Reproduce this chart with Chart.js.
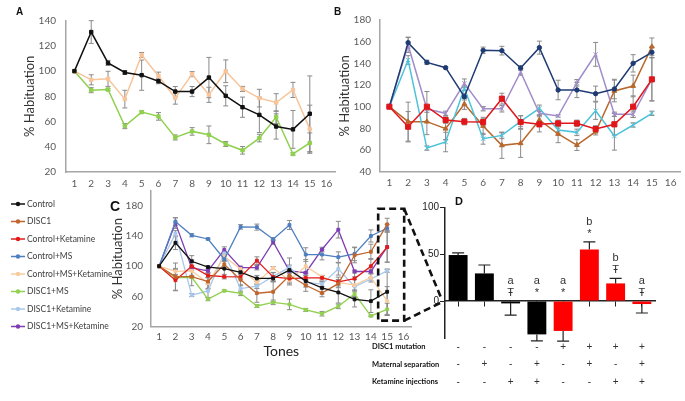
<!DOCTYPE html>
<html>
<head>
<meta charset="utf-8">
<script src="https://cdn.jsdelivr.net/npm/chart.js@4.4.1/dist/chart.umd.min.js"></script>
<style>
  html, body { margin: 0; padding: 0; background: #fff; }
  #wrap { position: relative; width: 685px; height: 401px; overflow: hidden; }
  canvas { position: absolute; }
  .tag { position: absolute; font-family: "Liberation Sans", Arial, sans-serif; font-weight: bold; color: #111; line-height: 1; }
</style>
</head>
<body>
<div id="wrap">
  <canvas id="chartA" width="340" height="200" style="left:0;top:0"></canvas>
  <canvas id="chartB" width="350" height="200" style="left:335px;top:0"></canvas>
  <canvas id="chartC" width="420" height="226" style="left:0;top:175px"></canvas>
  <canvas id="chartD" width="325" height="216" style="left:360px;top:185px"></canvas>
  <div class="tag" style="left:16px;top:7px;font-size:10px">A</div>
  <div class="tag" style="left:334px;top:7px;font-size:10px">B</div>
  <div class="tag" style="left:110px;top:199px;font-size:14px">C</div>
  <div class="tag" style="left:455px;top:196px;font-size:11px">D</div>
</div>
<script>
// tones on the x axis (16 labels, 15 measured)
const tones = ["1", "2", "3", "4", "5", "6", "7", "8", "9", "10", "11", "12", "13", "14", "15", "16"];

// % habituation per group, with error bars
const ctrl = [100, 131, 106.5, 98.9, 96.8, 92, 83.8, 83.8, 94.9, 80.4, 71.4, 65.3, 56.1, 53.8, 66.2];
const ctrlErr = [0, 9, 2, 1.5, 12, 2, 4, 4, 16, 8, 8, 14, 10, 15, 30];

const disc1 = [100, 86.2, 86.2, 79.7, 102.5, 82.2, 64.3, 66.2, 87.7, 74.8, 64.6, 76.9, 114.5, 119.1, 155.4];
const disc1Err = [0, 18, 12, 10, 5, 8, 12, 13, 5, 8, 5, 3, 10, 10, 8];

const ctrlKet = [100, 81.5, 100, 87.7, 86.2, 85.8, 107.4, 85.8, 83.7, 84.6, 84.6, 79.4, 83.7, 100, 125.2];
const ctrlKetErr = [0, 14, 14, 3, 3, 3, 5, 6, 7, 3, 3, 3, 10, 10, 20];

const ctrlMS = [100, 159.1, 140.9, 136, 109.2, 152, 151.7, 135.7, 154.5, 115.4, 115.4, 112, 116.3, 140, 150.2];
const ctrlMSErr = [0, 5, 2, 1, 3, 3, 4, 2, 6, 9, 7, 7, 9, 8, 5];

const ctrlMSKet = [100, 93.1, 93.9, 77.8, 112.8, 96.2, 78.8, 97.6, 81.2, 99.9, 85.9, 78.6, 75.1, 85.1, 54];
const ctrlMSKetErr = [0, 4, 6, 7, 2, 3, 5, 2, 6, 9, 2, 7, 7, 6, 19];

const disc1MS = [100, 84.9, 85.4, 56.4, 67.5, 64.1, 47.4, 52.2, 49.5, 42.2, 37.2, 46.9, 63.5, 34.3, 43];
const disc1MSErr = [0, 2, 1, 2, 1, 3, 2, 3, 7, 2, 3, 3, 5, 1, 8];

const disc1Ket = [100, 143.1, 61.8, 67.4, 117, 70.4, 73.5, 86.5, 98.5, 78.5, 76.3, 96.3, 72.9, 83.1, 93.9];
const disc1KetErr = [0, 4, 2, 9, 2, 5, 3, 5, 3, 3, 3, 8, 13, 2, 2];

const disc1MSKet = [100, 157, 97.8, 93.9, 121.6, 98.1, 98.1, 132, 93.9, 91.4, 122.1, 148.3, 93, 93, 125.5];
const disc1MSKetErr = [0, 7, 3, 2, 4, 2, 3, 3, 2, 1, 3, 11, 2, 3, 20];

const cTicks = [20, 60, 100, 140, 180];

// panel D: change at tone 15 per group
const dGroups = ["Control", "MS", "Ketamine", "MS+Ketamine", "DISC1", "DISC1+MS", "DISC1+Ketamine", "DISC1+MS+Ketamine"];
const dValues = [49.3, 29.6, -2.5, -35.7, -32, 55.3, 18.9, -3.2];
const dErrors = [2.4, 9, 12.5, 7, 11, 8, 5.4, 9.6];
const dLetters = ["", "", "a", "a", "a", "b", "b", "a"];
const dMarks = ["", "", "Ŧ", "*", "*", "*", "Ŧ", "Ŧ"];
const dTicks = [0, 50, 100];
const rowNames = ["DISC1 mutation", "Maternal separation", "Ketamine injections"];
const rowDisc1 = ["-", "-", "-", "-", "+", "+", "+", "+"];
const rowMS = ["-", "+", "-", "+", "-", "+", "-", "+"];
const rowKet = ["-", "-", "+", "+", "-", "-", "+", "+"];

Chart.defaults.font.family = "Lato, 'Open Sans', sans-serif";
Chart.defaults.animation = false;
Chart.defaults.plugins.legend.display = false;
Chart.defaults.plugins.tooltip.enabled = false;

const axisBorder = { color: "#a6a6a6", width: 1.5 };

// vertical error bars for the line panels
const errorBars = {
  id: "errorBars",
  beforeDatasetsDraw(chart) {
    const { ctx, scales: { x, y } } = chart;
    ctx.save();
    ctx.strokeStyle = "#8a8a8a";
    ctx.lineWidth = 1;
    chart.data.datasets.forEach(ds => {
      if (!ds.errors) return;
      ds.data.forEach((v, i) => {
        const e = ds.errors[i];
        if (!e) return;
        const px = x.getPixelForValue(i);
        const t = y.getPixelForValue(v + e);
        const b = y.getPixelForValue(v - e);
        ctx.beginPath();
        ctx.moveTo(px, t); ctx.lineTo(px, b);
        ctx.moveTo(px - 2.5, t); ctx.lineTo(px + 2.5, t);
        ctx.moveTo(px - 2.5, b); ctx.lineTo(px + 2.5, b);
        ctx.stroke();
      });
    });
    ctx.restore();
  }
};

// legend at the left of panel C
const sideLegend = {
  id: "sideLegend",
  afterDraw(chart) {
    const ctx = chart.ctx;
    ctx.save();
    ctx.font = "8.5px Lato";
    ctx.textBaseline = "middle";
    chart.data.datasets.forEach((ds, i) => {
      const y = 29 + i * 17.5;
      ctx.strokeStyle = ds.borderColor;
      ctx.lineWidth = 1.5;
      ctx.beginPath();
      ctx.moveTo(11, y); ctx.lineTo(25, y);
      ctx.stroke();
      ctx.fillStyle = ds.borderColor;
      ctx.beginPath();
      ctx.arc(18, y, 2.2, 0, Math.PI * 2);
      ctx.fill();
      ctx.fillStyle = "#404040";
      ctx.fillText(ds.label, 27, y);
    });
    ctx.restore();
  }
};

function lineSet(label, data, errors, color, style, radius, width) {
  return {
    label: label,
    data: data,
    errors: errors,
    borderColor: color,
    backgroundColor: color,
    borderWidth: width || 1.5,
    pointStyle: style,
    pointRadius: radius,
    pointBorderWidth: 1,
    tension: 0
  };
}

function lineOptions(o) {
  return {
    responsive: false,
    layout: { padding: o.pad },
    scales: {
      x: {
        type: "category",
        offset: true,
        grid: { display: false, drawTicks: false },
        border: axisBorder,
        ticks: { color: "#595959", font: { size: 10 }, padding: o.xPad, maxRotation: 0, autoSkip: false },
        title: o.xTitle || { display: false },
        afterFit: s => { s.height = o.xH; }
      },
      y: {
        min: o.min,
        max: o.max,
        grid: { display: false, drawTicks: false },
        border: axisBorder,
        ticks: { stepSize: o.step, color: "#595959", font: { size: 10 }, padding: o.yPad },
        afterBuildTicks: o.ticks ? s => { s.ticks = o.ticks.map(v => ({ value: v })); } : undefined,
        title: { display: true, text: "% Habituation", color: "#333", font: { size: 13 }, padding: { top: o.tPad, bottom: 0 } },
        afterFit: s => { s.width = o.yW; }
      }
    }
  };
}

window.chartA = new Chart(document.getElementById("chartA"), {
  type: "line",
  data: {
    labels: tones,
    datasets: [
      lineSet("Control", ctrl, ctrlErr, "#111111", "rect", 2.4),
      lineSet("Control+MS+Ketamine", ctrlMSKet, ctrlMSKetErr, "#f8c49a", "rect", 2.4),
      lineSet("DISC1+MS", disc1MS, disc1MSErr, "#8fd14f", "rect", 2.4)
    ]
  },
  options: lineOptions({ pad: { left: 14, top: 20.7, right: 2, bottom: 8 }, min: 20, max: 140, step: 20, xPad: 6, xH: 20, yPad: 10, yW: 52, tPad: 8.2 }),
  plugins: [errorBars]
});

window.chartB = new Chart(document.getElementById("chartB"), {
  type: "line",
  data: {
    labels: tones,
    datasets: [
      lineSet("Control+Ketamine", ctrlKet, ctrlKetErr, "#e0161b", "rect", 3.6),
      lineSet("Control+MS", ctrlMS, ctrlMSErr, "#1f3b73", "circle", 2.2),
      lineSet("DISC1+MS+Ketamine", disc1MSKet, disc1MSKetErr, "#a28dcb", "crossRot", 3),
      lineSet("DISC1+Ketamine", disc1Ket, disc1KetErr, "#4cc3db", "crossRot", 3),
      lineSet("DISC1", disc1, disc1Err, "#b8682d", "triangle", 2.8)
    ]
  },
  options: lineOptions({ pad: { left: 0, top: 20, right: 5, bottom: 8.3 }, min: 40, max: 180, step: 20, xPad: 5.5, xH: 20, yPad: 9, yW: 45, tPad: 2.2 }),
  plugins: [errorBars]
});

window.chartC = new Chart(document.getElementById("chartC"), {
  type: "line",
  data: {
    labels: tones,
    datasets: [
      lineSet("Control", ctrl, ctrlErr, "#111111", "rect", 2, 1.3),
      lineSet("DISC1", disc1, disc1Err, "#c0652d", "rect", 2, 1.3),
      lineSet("Control+Ketamine", ctrlKet, ctrlKetErr, "#e41b1b", "rect", 2, 1.3),
      lineSet("Control+MS", ctrlMS, ctrlMSErr, "#4e7fbf", "rect", 2, 1.3),
      lineSet("Control+MS+Ketamine", ctrlMSKet, ctrlMSKetErr, "#f9cb9c", "rect", 2, 1.3),
      lineSet("DISC1+MS", disc1MS, disc1MSErr, "#92d050", "rect", 2, 1.3),
      lineSet("DISC1+Ketamine", disc1Ket, disc1KetErr, "#a9c8eb", "rect", 2, 1.3),
      lineSet("DISC1+MS+Ketamine", disc1MSKet, disc1MSKetErr, "#7e3db5", "rect", 2, 1.3)
    ]
  },
  options: lineOptions({
    pad: { left: 106, top: 15.6, right: 8.4, bottom: 34.3 },
    min: 20, max: 200, ticks: cTicks, xPad: 4, xH: 40, yPad: 8, yW: 45, tPad: 4.2,
    xTitle: { display: true, text: "Tones", color: "#222", font: { size: 14 }, padding: { top: 0, bottom: 6.6 } }
  }),
  plugins: [errorBars, sideLegend]
});

// error bars, significance marks and the group table for panel D
const barExtras = {
  id: "barExtras",
  afterDatasetsDraw(chart) {
    const { ctx, scales: { x, y } } = chart;
    ctx.save();
    ctx.strokeStyle = "#222";
    ctx.lineWidth = 1.2;
    dValues.forEach((v, i) => {
      const px = x.getPixelForValue(i);
      const end = v >= 0 ? v + dErrors[i] : v - dErrors[i];
      ctx.beginPath();
      ctx.moveTo(px, y.getPixelForValue(v)); ctx.lineTo(px, y.getPixelForValue(end));
      ctx.moveTo(px - 6, y.getPixelForValue(end)); ctx.lineTo(px + 6, y.getPixelForValue(end));
      ctx.stroke();
      const top = y.getPixelForValue(v >= 0 ? v + dErrors[i] : 0);
      ctx.fillStyle = "#333";
      ctx.font = "11px 'Liberation Sans'";
      ctx.textAlign = "center";
      ctx.textBaseline = "middle";
      ctx.fillText(dMarks[i], px, top - 8);
      ctx.fillText(dLetters[i], px, top - 20);
    });
    const rows = [rowDisc1, rowMS, rowKet];
    const y0 = chart.chartArea.bottom + 8.6;
    rows.forEach((r, k) => {
      const ry = y0 + k * 17.5;
      ctx.fillStyle = "#111";
      ctx.textAlign = "left";
      ctx.font = "bold 7.5px Lato";
      ctx.fillText(rowNames[k], 12, ry);
      ctx.textAlign = "center";
      ctx.font = "10px 'Liberation Sans'";
      ctx.fillStyle = "#333";
      r.forEach((s, i) => ctx.fillText(s, x.getPixelForValue(i), ry));
    });
    ctx.restore();
  },
  afterDraw(chart) {
    const c = window.chartC;
    if (!c) return;
    // chart C canvas sits at (0,175), chart D canvas at (360,185)
    const ox = 0 - 360, oy = 175 - 185;
    const cx = c.scales.x.getPixelForValue(14) + ox;
    const l = cx - 9, r = cx + 17;
    const t = c.scales.y.getPixelForValue(176) + oy, b = c.scales.y.getPixelForValue(28) + oy;
    const ax = chart.chartArea.left - 3;
    const ay = chart.scales.y.getPixelForValue(0);
    const ctx = chart.ctx;
    ctx.save();
    ctx.strokeStyle = "#111";
    ctx.lineWidth = 2.6;
    ctx.setLineDash([7, 4]);
    ctx.strokeRect(l, t, r - l, b - t);
    ctx.beginPath();
    ctx.moveTo(r, t); ctx.lineTo(ax, ay - 1);
    ctx.moveTo(r, b); ctx.lineTo(ax, ay + 1);
    ctx.stroke();
    ctx.restore();
  }
};

window.chartD = new Chart(document.getElementById("chartD"), {
  type: "bar",
  data: {
    labels: dGroups,
    datasets: [{
      label: "Change",
      data: dValues,
      backgroundColor: rowDisc1.map(s => s === "+" ? "#ff0000" : "#000000"),
      barPercentage: 0.72,
      categoryPercentage: 1,
      clip: false
    }]
  },
  options: {
    responsive: false,
    layout: { padding: { left: 45, top: 22.7, right: 30, bottom: 62.6 } },
    scales: {
      x: {
        position: { y: 0 },
        grid: { display: true, drawOnChartArea: false, drawTicks: true, tickLength: 5, offset: false, color: "#222" },
        border: { color: "#222", width: 1.5 },
        ticks: { display: false }
      },
      y: {
        min: -40,
        max: 100,
        afterBuildTicks: s => { s.ticks = dTicks.map(v => ({ value: v })); },
        grid: { display: true, drawOnChartArea: false, drawTicks: true, tickLength: 5, color: "#222" },
        border: { color: "#222", width: 1.5 },
        ticks: { color: "#222", font: { family: "'Liberation Sans'", size: 10 }, padding: 1, autoSkip: false },
        afterFit: s => { s.width = 40; }
      }
    }
  },
  plugins: [barExtras]
});
</script>
</body>
</html>
